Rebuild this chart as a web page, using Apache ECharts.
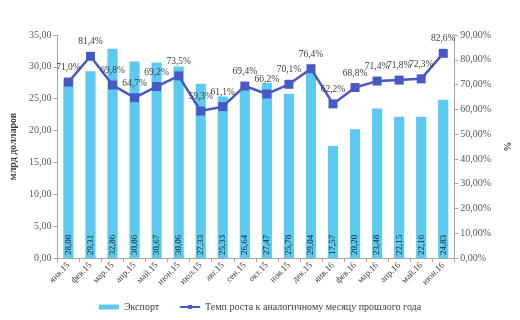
<!DOCTYPE html>
<html><head><meta charset="utf-8">
<script src="https://cdn.jsdelivr.net/npm/echarts@6/dist/echarts.min.js"></script>
<style>html,body{margin:0;padding:0;background:#fff}#c{width:520px;height:320px}</style>
</head><body><div id="c"></div>
<script>
const categories = ['янв.15','фев.15','мар.15','апр.15','май.15','июн.15','июл.15','авг.15','сен.15','окт.15','ноя.15','дек.15','янв.16','фев.16','мар.16','апр.16','май.16','июн.16'];
const exportValues = [28.08,29.31,32.86,30.86,30.67,30.06,27.33,25.33,26.64,27.47,25.78,29.04,17.57,20.20,23.48,22.15,22.16,24.83];
const growthRate = [71.0,81.4,69.8,64.7,69.2,73.5,59.3,61.1,69.4,66.2,70.1,76.4,62.2,68.8,71.4,71.8,72.3,82.6];
const leftTicks = [0,5,10,15,20,25,30,35];
const rightTicks = [0,10,20,30,40,50,60,70,80,90];

const FONT = '"Liberation Serif", "Times New Roman", serif';
const comma = (v, d) => v.toFixed(d).replace('.', ',');
const chart = echarts.init(document.getElementById('c'), null, {renderer:'canvas'});
chart.setOption({
  animation:false,
  textStyle:{fontFamily:FONT},
  grid:{left:42,right:59,top:35,bottom:62},
  legend:{
    bottom:3, left:'center', itemGap:20, itemWidth:20, itemHeight:5,
    textStyle:{fontFamily:FONT,fontSize:10,color:'#404040'},
    data:[{name:'Экспорт',icon:'rect'},{name:'Темп роста к аналогичному месяцу прошлого года'}]
  },
  xAxis:{
    type:'category', data:categories, boundaryGap:true,
    axisLine:{lineStyle:{color:'#a6a6a6'}},
    axisTick:{show:true, alignWithLabel:false, length:4, lineStyle:{color:'#a6a6a6'}},
    axisLabel:{rotate:45, interval:0, fontSize:9, color:'#404040', fontFamily:FONT, margin:6}
  },
  yAxis:[{
    type:'value', min:0, max:35, interval:5,
    name:'млрд долларов', nameLocation:'middle', nameGap:33, nameRotate:90,
    nameTextStyle:{fontFamily:FONT,fontSize:10,fontWeight:'bold',color:'#404040'},
    axisLine:{show:true,lineStyle:{color:'#a6a6a6'}},
    axisTick:{show:true,length:4,lineStyle:{color:'#a6a6a6'}},
    splitLine:{show:false},
    axisLabel:{fontSize:10,color:'#595959',fontFamily:FONT,margin:6,formatter:v=>comma(v,2)}
  },{
    type:'value', min:0, max:90, interval:10, position:'right',
    name:'%', nameLocation:'middle', nameGap:42, nameRotate:-90,
    nameTextStyle:{fontFamily:FONT,fontSize:10,fontWeight:'bold',color:'#404040'},
    axisLine:{show:true,lineStyle:{color:'#a6a6a6'}},
    axisTick:{show:true,length:4,lineStyle:{color:'#a6a6a6'}},
    splitLine:{show:false},
    axisLabel:{fontSize:10,color:'#595959',fontFamily:FONT,margin:6,formatter:v=>comma(v,2)+'%'}
  }],
  series:[{
    name:'Экспорт', type:'bar', yAxisIndex:0, data:exportValues, barWidth:'46%',
    itemStyle:{color:'#5BC9F0'},
    label:{show:true, position:'insideBottom', rotate:90, align:'left', verticalAlign:'middle', distance:3,
      fontSize:9, color:'#1f1f1f', fontFamily:FONT, formatter:p=>comma(p.value,2)}
  },{
    name:'Темп роста к аналогичному месяцу прошлого года', type:'line', yAxisIndex:1, data:growthRate,
    symbol:'rect', symbolSize:9,
    lineStyle:{color:'#4759C6',width:2.5}, itemStyle:{color:'#4759C6'},
    label:{show:true, position:'top', distance:5, fontSize:9.5, color:'#404040', fontFamily:FONT,
      formatter:p=>comma(p.value,1)+'%'}
  }]
});
</script></body></html>
